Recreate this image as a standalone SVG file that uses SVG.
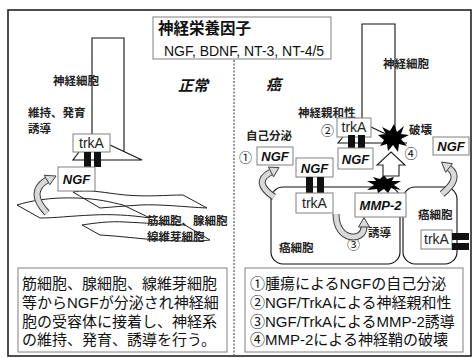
<svg xmlns="http://www.w3.org/2000/svg" width="473" height="358" viewBox="0 0 473 358">
  <defs>
    <style>
      .frame { fill: #fff; stroke: #222; stroke-width: 1.6; }
      .box { fill: #fff; stroke: #808080; stroke-width: 1; }
      .cell { fill: none; stroke: #111; stroke-width: 1.1; }
      .rib { fill: none; stroke: #222; stroke-width: 1; }
      .rcpt { fill: #111; }
      .arw-o { fill: none; stroke: #404040; stroke-width: 7; }
      .arw-i { fill: none; stroke: #d9d9d9; stroke-width: 5; }
      .head { fill: #d9d9d9; stroke: #404040; stroke-width: 1; stroke-linejoin: round; }
      .jp { font-family: "Noto Sans CJK JP", sans-serif; fill: #111; }
      .lbl { font-family: "Noto Sans CJK JP", sans-serif; font-size: 11.5px; font-weight: 700; fill: #222; }
      .lat { font-family: "Liberation Sans", Arial, sans-serif; fill: #111; }
      .mol { font-family: "Liberation Sans", Arial, sans-serif; font-size: 13px; font-weight: 700; font-style: italic; fill: #111; text-anchor: middle; }
      .rec { font-family: "Liberation Sans", Arial, sans-serif; font-size: 14px; fill: #222; text-anchor: middle; }
      .num { font-family: "Noto Sans CJK JP", sans-serif; font-size: 13px; fill: #111; }
      .body { font-family: "Liberation Sans", "Noto Sans CJK JP", sans-serif; font-size: 15px; fill: #111; }
    </style>
    <!-- curved block-arrow bodies -->
    <path id="c1" d="M47,213 Q27,192 47,180"/>
    <path id="c2" d="M274,197 Q252,182 271,172"/>
    <path id="c3" d="M442,194 Q462,178 449,168"/>
    <path id="c4" d="M336,214 C336,242 364,242 364,227"/>
  </defs>

  <!-- outer frame -->
  <rect class="frame" x="8" y="10" width="463" height="346"/>

  <!-- divider between normal and cancer panels -->
  <line x1="234" y1="60" x2="234" y2="355" stroke="#333" stroke-width="1" stroke-dasharray="2,1.5"/>

  <!-- title -->
  <g id="title">
    <rect class="box" x="153" y="17" width="178" height="42"/>
    <text class="jp" x="158" y="34" font-size="15.5" font-weight="700">神経栄養因子</text>
    <text class="lat" x="244" y="56" font-size="14" text-anchor="middle">NGF, BDNF, NT-3, NT-4/5</text>
  </g>

  <!-- ===== normal panel ===== -->
  <g id="normal-heading">
    <text class="jp" x="178" y="91" font-size="15" font-weight="700" font-style="italic">正常</text>
  </g>

  <!-- stromal cells (muscle, gland, fibroblast) -->
  <g id="stroma">
    <path class="rib" d="M73,192 C90,189 105,193 125,195 C150,197 165,195 183,195 L207,208 C185,207 160,204 140,205 C125,206 112,207 100,208 Z"/>
    <path class="rib" d="M17,205 C30,201 50,197 77,198 C100,199 110,202 123,205 L150,218 C130,215 110,214 93,215 C70,216 55,218 40,218 Z"/>
    <path class="rib" d="M82,225 C95,223 110,221 125,222 C145,223 160,224 185,225 L210,240 C195,242 175,241 160,240 C140,239 120,236 100,235 Z"/>
    <text class="lbl" x="147" y="225" font-size="11">筋細胞、腺細胞</text>
    <text class="lbl" x="147" y="241" font-size="11">線維芽細胞</text>
  </g>

  <!-- neuron (normal) -->
  <g id="neuron-normal">
    <path class="cell" d="M92,134 V38 H124 V151.6"/>
    <path class="cell" d="M110,145 L142,160 H73 L79,152"/>
    <text class="lbl" x="53" y="85">神経細胞</text>
    <text class="lbl" x="28" y="117">維持、発育</text>
    <text class="lbl" x="28" y="133">誘導</text>
  </g>

  <g id="trkA-normal">
    <rect class="box" x="73" y="134" width="37" height="18"/>
    <text class="rec" x="91.5" y="148">trkA</text>
    <rect class="rcpt" x="84" y="152" width="7" height="15"/>
    <rect class="rcpt" x="94" y="152" width="7" height="15"/>
  </g>

  <g id="ngf-normal">
    <rect class="box" x="58" y="167" width="37" height="24"/>
    <text class="mol" x="76.5" y="184">NGF</text>
  </g>

  <!-- ===== cancer panel ===== -->
  <g id="cancer-heading">
    <text class="jp" x="266" y="90" font-size="15" font-weight="700" font-style="italic">癌</text>
  </g>

  <!-- cancer cells -->
  <g id="cancer-cell-left">
    <rect class="cell" x="271" y="187" width="129" height="77" rx="12"/>
    <text class="lbl" x="279" y="252">癌細胞</text>
  </g>
  <g id="cancer-cell-right">
    <rect class="cell" x="403" y="187" width="54" height="77" rx="12"/>
    <text class="lbl" x="418" y="219">癌細胞</text>
  </g>

  <!-- neuron (cancer) -->
  <g id="neuron-cancer">
    <path class="cell" d="M362,118 V24 H395 V132"/>
    <path class="cell" d="M371,127 L390,136"/>
    <path class="cell" d="M407,143 H338 L343,137"/>
    <text class="lbl" x="383" y="68">神経細胞</text>
    <text class="lbl" x="298" y="117">神経親和性</text>
  </g>

  <g id="trkA-neuron">
    <rect class="box" x="337" y="118" width="34" height="19"/>
    <text class="rec" x="354" y="132">trkA</text>
    <rect class="rcpt" x="348" y="135" width="7" height="15"/>
    <rect class="rcpt" x="358" y="135" width="7" height="15"/>
  </g>

  <g id="ngf-neuron">
    <rect class="box" x="338" y="148" width="35" height="21"/>
    <text class="mol" x="355.5" y="163.5">NGF</text>
  </g>

  <g id="ngf-autocrine">
    <rect class="box" x="257" y="147" width="36" height="18"/>
    <text class="mol" x="275" y="161">NGF</text>
    <text class="lbl" x="246" y="140">自己分泌</text>
    <text class="num" x="239" y="162">①</text>
  </g>

  <g id="ngf-bound">
    <rect class="box" x="296" y="158" width="37" height="19"/>
    <text class="mol" x="314.5" y="172.5">NGF</text>
    <rect class="rcpt" x="306" y="177" width="7" height="16"/>
    <rect class="rcpt" x="317" y="177" width="7" height="16"/>
  </g>

  <g id="trkA-cancer">
    <rect class="box" x="296" y="193" width="37" height="20"/>
    <text class="rec" x="314.5" y="208">trkA</text>
  </g>

  <g id="mmp2">
    <rect class="box" x="355" y="193" width="51" height="24"/>
    <text class="mol" x="380.5" y="210">MMP-2</text>
  </g>

  <g id="ngf-right">
    <rect class="box" x="433" y="137" width="36" height="18"/>
    <text class="mol" x="451" y="151">NGF</text>
  </g>

  <g id="trkA-right">
    <rect class="box" x="421" y="230" width="31" height="19"/>
    <text class="rec" x="436.5" y="244">trkA</text>
    <rect class="rcpt" x="452" y="233" width="17" height="7"/>
    <rect class="rcpt" x="452" y="243" width="17" height="7"/>
  </g>

  <!-- destruction bursts -->
  <g id="burst-membrane">
    <polygon fill="#000" points="367,181 376,181 373,177 380,179 384,175 387,179 394,177 392,181 401,181 394,185 401,190 391,188 388,193 384,189 378,193 377,189 367,190 374,185"/>
  </g>
  <g id="burst-neuron">
    <polygon fill="#000" points="394,124 397,132 404,126 401,134 409,135 401,139 407,146 399,144 398,152 393,145 388,151 387,144 380,146 384,140 378,135 386,134 382,127 390,131"/>
    <text class="lbl" x="409" y="134">破壊</text>
    <text class="num" x="404.5" y="157.5">④</text>
  </g>

  <g id="label-2">
    <text class="num" x="321" y="135">②</text>
  </g>

  <g id="label-3">
    <text class="num" x="347" y="249" font-size="14">③</text>
    <text class="lbl" x="368" y="237">誘導</text>
  </g>

  <!-- connectors -->
  <g id="connectors">
    <!-- NGF secretion, normal -->
    <use href="#c1" class="arw-o"/>
    <use href="#c1" class="arw-i"/>
    <polygon class="head" points="56,176 49.8,184.7 44.2,175.3"/>
    <!-- autocrine NGF -->
    <use href="#c2" class="arw-o"/>
    <use href="#c2" class="arw-i"/>
    <polygon class="head" points="279,167.5 273.6,176.9 268.4,167.1"/>
    <!-- NGF release, right cell -->
    <use href="#c3" class="arw-o"/>
    <use href="#c3" class="arw-i"/>
    <polygon class="head" points="441.5,162 452.4,163.7 445.6,172.3"/>
    <!-- trkA induces MMP-2 -->
    <use href="#c4" class="arw-o"/>
    <use href="#c4" class="arw-i"/>
    <polygon class="head" points="364,217.5 369.5,227 358.5,227"/>
    <!-- MMP-2 toward nerve sheath -->
    <polygon fill="#fff" stroke="#222" stroke-width="1.1" points="391,152 405,165 399,165 399,176 383,176 383,165 377,165"/>
  </g>

  <!-- explanatory notes -->
  <g id="note-normal">
    <rect class="box" x="18" y="268" width="209" height="84"/>
    <text class="body" x="22" y="289">筋細胞、腺細胞、線維芽細胞</text>
    <text class="body" x="22" y="308">等からNGFが分泌され神経細</text>
    <text class="body" x="22" y="327">胞の受容体に接着し、神経系</text>
    <text class="body" x="22" y="345">の維持、発育、誘導を行う。</text>
  </g>
  <g id="note-cancer">
    <rect class="box" x="245" y="268" width="218" height="84"/>
    <text class="body" x="250" y="289">①腫瘍によるNGFの自己分泌</text>
    <text class="body" x="250" y="308">②NGF/TrkAによる神経親和性</text>
    <text class="body" x="250" y="327">③NGF/TrkAによるMMP-2誘導</text>
    <text class="body" x="250" y="345">④MMP-2による神経鞘の破壊</text>
  </g>
</svg>
